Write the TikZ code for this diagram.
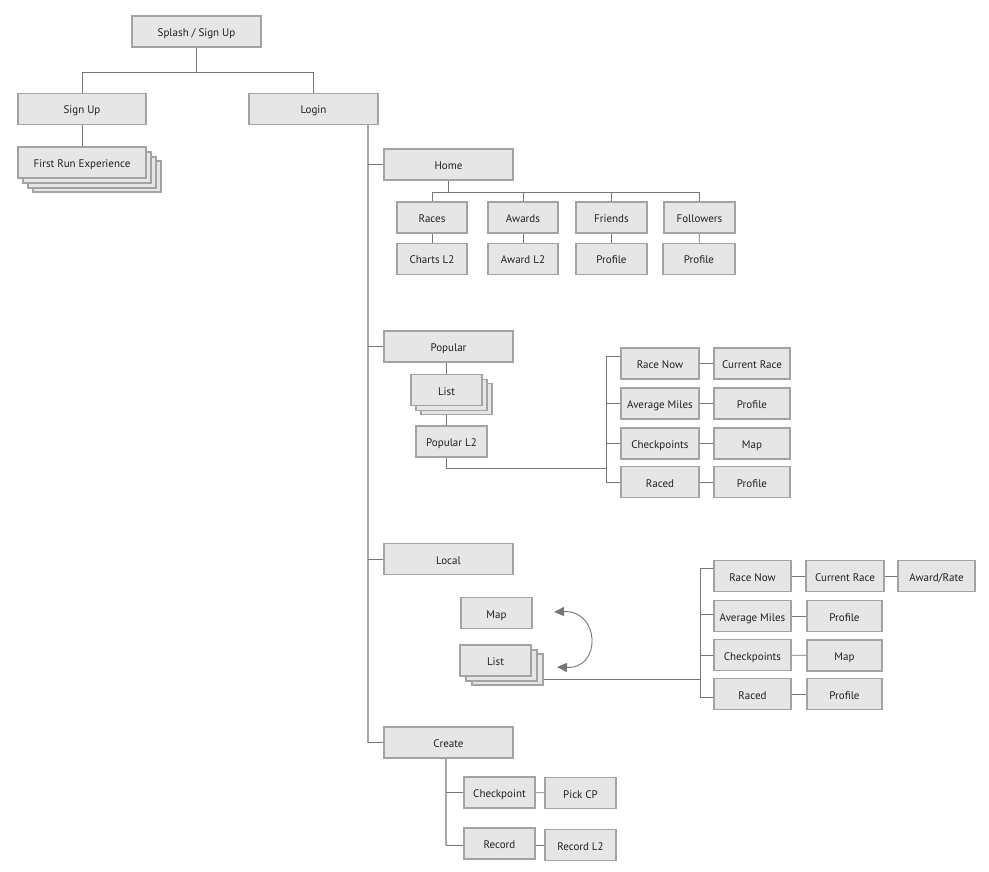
\documentclass[tikz,border=0pt]{standalone}
\usepackage{fontspec}
\setmainfont{PT Sans}
\usetikzlibrary{arrows.meta,shadows,backgrounds,calc}
\definecolor{boxfill}{HTML}{E6E6E6}
\definecolor{boxdraw}{HTML}{A3A3A3}
\definecolor{linecol}{HTML}{767676}
\definecolor{trunkcol}{HTML}{A8A8A8}
\definecolor{txt}{HTML}{231F20}
\tikzset{
  card/.style={draw=boxdraw, fill=boxfill, line width=1.5pt, inner sep=0pt,
    minimum width=#1, minimum height=31pt, text=txt, font=\fontsize{11}{13}\selectfont,
    text height=10pt, text depth=0pt},
  card/.default=71pt,
  conn/.style={draw=linecol, line width=0.9pt},
  trunk/.style={draw=trunkcol, line width=1.8pt},
  swap/.style={draw=linecol, line width=0.9pt, {Triangle[length=10pt,width=9pt]}-{Triangle[length=10pt,width=9pt]}, fill=none}
}
\begin{document}
\begin{tikzpicture}[x=1pt,y=-1pt]
\useasboundingbox (0,0) rectangle (989,872);
% top level
\node[card=129pt] (splash) at (196.5,31.5) {Splash / Sign Up};
\node[card=128pt] (signup) at (82,109) {Sign Up};
\node[card=129pt] (login) at (313.5,109) {Login};
\node[card=128pt,
  copy shadow={shadow xshift=15pt, shadow yshift=-14pt, draw=boxdraw, fill=boxfill, line width=1.2pt, opacity=1},
  copy shadow={shadow xshift=10pt, shadow yshift=-10pt, draw=boxdraw, fill=boxfill, line width=1.2pt, opacity=1},
  copy shadow={shadow xshift=5pt, shadow yshift=-5pt, draw=boxdraw, fill=boxfill, line width=1.2pt, opacity=1}]
  (frx) at (82,162.5) {First Run Experience};
% home
\node[card=129pt] (home) at (448.5,164.5) {Home};
\node[card=70pt] (races) at (432,217.5) {Races};
\node[card=70pt] (awards) at (523,217.5) {Awards};
\node[card] (friends) at (611.5,217.5) {Friends};
\node[card] (followers) at (699.5,217.5) {Followers};
\node[card=70pt] (charts) at (432,259) {Charts L2};
\node[card=70pt] (awardl) at (523,259) {Award L2};
\node[card] (prof1) at (611.5,259) {Profile};
\node[card=72pt] (prof2) at (699,259) {Profile};
% popular
\node[card=129pt] (popular) at (448.5,346.5) {Popular};
\node[card,
  copy shadow={shadow xshift=10pt, shadow yshift=-9pt, draw=boxdraw, fill=boxfill, line width=1.2pt, opacity=1},
  copy shadow={shadow xshift=5pt, shadow yshift=-5pt, draw=boxdraw, fill=boxfill, line width=1.2pt, opacity=1}]
  (plist) at (446.5,390) {List};
\node[card] (popl) at (451.5,441.5) {Popular L2};
\node[card=78pt] (rn1) at (660,363.5) {Race Now};
\node[card=76pt] (cr1) at (752,363.5) {Current Race};
\node[card=78pt] (am1) at (660,403.5) {Average Miles};
\node[card=76pt] (prof3) at (752,403.5) {Profile};
\node[card=78pt] (cp1) at (660,443.5) {Checkpoints};
\node[card=76pt] (map1) at (752,443.5) {Map};
\node[card=78pt] (rc1) at (660,482) {Raced};
\node[card=76pt] (prof4) at (752,482) {Profile};
% local
\node[card=129pt] (local) at (448.5,559) {Local};
\node[card] (lmap) at (496.5,613) {Map};
\node[card,
  copy shadow={shadow xshift=12pt, shadow yshift=-9pt, draw=boxdraw, fill=boxfill, line width=1.2pt, opacity=1},
  copy shadow={shadow xshift=6pt, shadow yshift=-5pt, draw=boxdraw, fill=boxfill, line width=1.2pt, opacity=1}]
  (llist) at (495.5,660.5) {List};
\node[card=77pt] (rn2) at (752.5,576) {Race Now};
\node[card=78pt] (cr2) at (845,576) {Current Race};
\node[card=77pt] (award) at (936.5,576) {Award/Rate};
\node[card=77pt] (am2) at (752.5,616) {Average Miles};
\node[card=75pt] (prof5) at (844.5,616) {Profile};
\node[card=77pt] (cp2) at (752.5,655) {Checkpoints};
\node[card=75pt] (map2) at (844.5,655.5) {Map};
\node[card=77pt] (rc2) at (752.5,694) {Raced};
\node[card=75pt] (prof6) at (844.5,694) {Profile};
% create
\node[card=129pt] (create) at (448.5,742.5) {Create};
\node[card] (chk) at (499.5,792.5) {Checkpoint};
\node[card] (pick) at (580.5,793) {Pick CP};
\node[card] (rec) at (499.5,843.5) {Record};
\node[card] (recl) at (580.5,845) {Record L2};
% helper coordinates
\coordinate (tr) at (368,0);
\coordinate (sb) at (0,72);
\coordinate (hb) at (0,192);
\coordinate (pb) at (606,468);
\coordinate (lb) at (700,679);
\coordinate (cb) at (446,0);
\coordinate (arrA) at (554,612);
\coordinate (arrB) at (557,667);
\begin{scope}[on background layer]
  % splash tree
  \draw[conn] (splash.south) -- (splash.south |- sb);
  \draw[conn] (signup.north) -- (signup.north |- sb) -- (login.north |- sb) -- (login.north);
  \draw[conn] (signup.south) -- (frx.north);
  % login trunk
  \draw[trunk] (login.south -| tr) -- (create.west -| tr);
  \draw[conn] (create.west -| tr) -- (create.west);
  \draw[conn] (home.west -| tr) -- (home.west);
  \draw[conn] (popular.west -| tr) -- (popular.west);
  \draw[conn] (local.west -| tr) -- (local.west);
  % home
  \draw[conn] (home.south) -- (home.south |- hb);
  \draw[conn] (races.north) -- (races.north |- hb) -- (followers.north |- hb) -- (followers.north);
  \draw[conn] (awards.north) -- (awards.north |- hb);
  \draw[conn] (friends.north) -- (friends.north |- hb);
  \draw[conn] (races) -- (charts);
  \draw[conn] (awards) -- (awardl);
  \draw[conn] (friends) -- (prof1);
  \draw[conn] (followers) -- (prof2);
  % popular
  \draw[conn] (plist.north |- popular.south) -- (plist.north);
  \draw[conn] (plist.south) -- (plist.south |- popl.north);
  \draw[conn] (plist.south |- popl.south) |- (pb);
  \draw[conn] ($(rn1.west)+(0,-7.5)$) -| (rc1.west -| pb) -- (rc1.west);
  \draw[conn] (am1.west -| pb) -- (am1.west);
  \draw[conn] (cp1.west -| pb) -- (cp1.west);
  \draw[conn] (rn1) -- (cr1);
  \draw[conn] (am1) -- (prof3);
  \draw[conn] (cp1) -- (map1);
  \draw[conn] (rc1) -- (prof4);
  % local
  \draw[conn] (llist.east |- lb) -- (lb);
  \draw[conn] ($(rn2.west)+(0,-8)$) -| ($(rc2.west -| lb)+(0,3)$) -- ($(rc2.west)+(0,3)$);
  \draw[conn] ($(am2.west -| lb)+(0,-2)$) -- ($(am2.west)+(0,-2)$);
  \draw[conn] (cp2.west -| lb) -- (cp2.west);
  \draw[conn] (rn2) -- (cr2);
  \draw[conn] (cr2) -- (award);
  \draw[conn] (am2) -- (prof5);
  \draw[conn] (cp2) -- (map2);
  \draw[conn] (rc2) -- (prof6);
  % create
  \draw[trunk] (create.south -| cb) -- (recl.west -| cb);
  \draw[conn] (recl.west -| cb) -- (rec.west |- recl.west);
  \draw[conn] (chk.west -| cb) -- (chk.west);
  \draw[conn] (chk) -- (pick);
  \draw[conn] (rec.east |- recl.west) -- (recl.west);
\end{scope}
\draw[swap] (arrA) .. controls (600,610) and (602,669) .. (arrB);
\end{tikzpicture}
\end{document}
